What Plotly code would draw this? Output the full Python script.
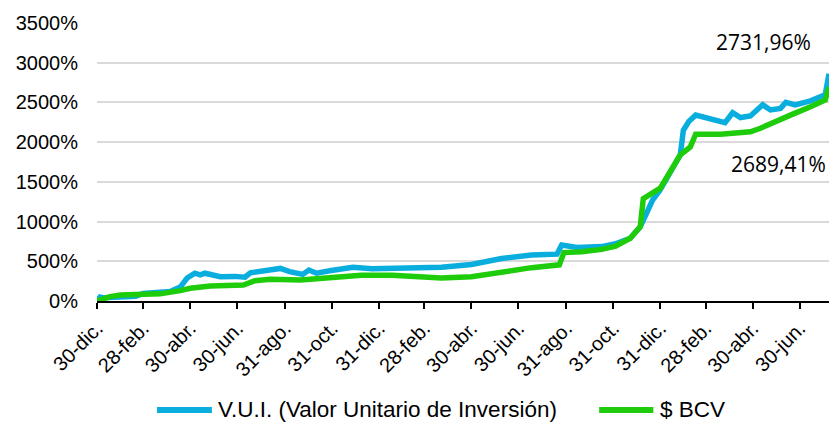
import plotly.graph_objects as go

# --- data ---
vui_dates = ["2020-12-30", "2021-01-03", "2021-01-08", "2021-01-29", "2021-02-18", "2021-02-28",
             "2021-03-22", "2021-04-04", "2021-04-17", "2021-04-26", "2021-05-06", "2021-05-13",
             "2021-05-19", "2021-06-08", "2021-06-27", "2021-07-10", "2021-07-17", "2021-08-05",
             "2021-08-25", "2021-09-06", "2021-09-23", "2021-10-01", "2021-10-11", "2021-10-28",
             "2021-11-27", "2021-12-22", "2022-01-30", "2022-02-24", "2022-03-22", "2022-04-30",
             "2022-06-08", "2022-07-17", "2022-08-19", "2022-08-25", "2022-09-14", "2022-10-16",
             "2022-11-03", "2022-11-22", "2022-12-05", "2022-12-12", "2022-12-21", "2022-12-31",
             "2023-01-13", "2023-01-26", "2023-01-30", "2023-02-06", "2023-02-15", "2023-03-19",
             "2023-03-25", "2023-04-04", "2023-04-14", "2023-04-27", "2023-05-13", "2023-05-23",
             "2023-06-05", "2023-06-12", "2023-06-24", "2023-07-14", "2023-07-27", "2023-08-02",
             "2023-08-07"]
vui_values = [0, 50, 40, 45, 60, 95,
              100, 120, 175, 290, 350, 330,
              350, 305, 310, 300, 355, 380,
              410, 370, 335, 390, 350, 380,
              425, 405, 420, 415, 425, 460,
              535, 580, 590, 705, 675, 685,
              720, 790, 935, 1080, 1270, 1400,
              1630, 1840, 2150, 2260, 2340, 2270,
              2245, 2370, 2310, 2330, 2470, 2405,
              2425, 2500, 2470, 2520, 2565, 2595,
              2860]

bcv_dates = ["2020-12-30", "2021-01-16", "2021-01-29", "2021-02-28", "2021-03-22", "2021-04-17",
             "2021-04-30", "2021-05-26", "2021-07-08", "2021-07-23", "2021-08-12", "2021-09-20",
             "2021-10-28", "2021-12-08", "2022-01-17", "2022-02-24", "2022-03-22", "2022-04-30",
             "2022-06-08", "2022-07-17", "2022-08-22", "2022-08-28", "2022-09-20", "2022-10-16",
             "2022-11-03", "2022-11-22", "2022-12-05", "2022-12-09", "2022-12-31", "2023-01-13",
             "2023-01-26", "2023-02-08", "2023-02-15", "2023-03-19", "2023-04-01", "2023-04-27",
             "2023-05-10", "2023-05-23", "2023-06-18", "2023-07-14", "2023-08-02", "2023-08-07"]
bcv_values = [0, 55, 75, 75, 90, 130,
              160, 190, 200, 255, 275, 265,
              300, 325, 325, 300, 290, 305,
              370, 420, 455, 610, 620, 650,
              690, 790, 935, 1290, 1420, 1630,
              1840, 1940, 2100, 2100, 2110, 2130,
              2175, 2235, 2340, 2445, 2530, 2689.41]

tick_dates = ["2020-12-30", "2021-02-28", "2021-04-30", "2021-06-30", "2021-08-31", "2021-10-31",
              "2021-12-31", "2022-02-28", "2022-04-30", "2022-06-30", "2022-08-31", "2022-10-31",
              "2022-12-31", "2023-02-28", "2023-04-30", "2023-06-30"]
tick_labels = ["30-dic.", "28-feb.", "30-abr.", "30-jun.", "31-ago.", "31-oct.",
               "31-dic.", "28-feb.", "30-abr.", "30-jun.", "31-ago.", "31-oct.",
               "31-dic.", "28-feb.", "30-abr.", "30-jun."]
y_ticks = [0, 500, 1000, 1500, 2000, 2500, 3000, 3500]
y_labels = [f"{v}%" for v in y_ticks]

vui_name = "V.U.I. (Valor Unitario de Inversión)"
bcv_name = "$ BCV"
vui_end_label = "2731,96%"
bcv_end_label = "2689,41%"

BLUE = "#0AAEDE"
GREEN = "#1FCC0C"
LW = 5.5

fig = go.Figure()
fig.add_trace(go.Scatter(x=vui_dates, y=vui_values, mode="lines", name=vui_name,
                         line=dict(color=BLUE, width=LW), showlegend=False))
fig.add_trace(go.Scatter(x=bcv_dates, y=bcv_values, mode="lines", name=bcv_name,
                         line=dict(color=GREEN, width=LW), showlegend=False))

# end-value labels
fig.add_annotation(x=vui_dates[-1], y=3260, text=vui_end_label, showarrow=False,
                   xanchor="right", xshift=-16, font=dict(family="Open Sans", size=21, color="#000000"))
fig.add_annotation(x=bcv_dates[-1], y=1725, text=bcv_end_label, showarrow=False,
                   xanchor="right", xshift=-1, font=dict(family="Open Sans", size=21, color="#000000"))

# legend drawn below the plot (long line samples like the reference)
LEG_Y = -0.392
legend_items = [(vui_name, BLUE, 0.082, 0.157), (bcv_name, GREEN, 0.686, 0.760)]
for name, col, x0, x1 in legend_items:
    fig.add_shape(type="line", xref="paper", yref="paper", x0=x0, x1=x1, y0=LEG_Y, y1=LEG_Y,
                  line=dict(color=col, width=6))
    fig.add_annotation(xref="paper", yref="paper", x=x1 + 0.006, y=LEG_Y, text=name,
                       showarrow=False, xanchor="left", yanchor="middle",
                       font=dict(size=22.5, color="#000000"))

fig.update_layout(
    width=829, height=423,
    margin=dict(l=97, r=0, t=23, b=122, autoexpand=False),
    paper_bgcolor="white", plot_bgcolor="white",
    font=dict(family="Liberation Sans, Arial, sans-serif", color="#000000"),
    showlegend=False,
    xaxis=dict(type="date", range=["2020-12-30", "2023-08-07"], automargin=False,
               tickmode="array", tickvals=tick_dates, ticktext=tick_labels,
               tickangle=-45, tickfont=dict(size=20),
               showgrid=False, zeroline=False,
               showline=True, linecolor="#000000", linewidth=1.5,
               ticks="outside", ticklen=6, tickcolor="#000000", tickwidth=1.5),
    yaxis=dict(range=[0, 3500], automargin=False, tickmode="array", tickvals=y_ticks, ticktext=y_labels,
               tickfont=dict(size=20), showgrid=True, gridcolor="#D9D9D9", gridwidth=1.5,
               zeroline=False, showline=False, ticks="", ticklabelstandoff=18),
)

fig.write_html("out.html", config={"displayModeBar": False},
               post_script="document.body.style.margin='0';document.body.style.padding='0';"
                           "document.body.style.overflow='hidden';")
